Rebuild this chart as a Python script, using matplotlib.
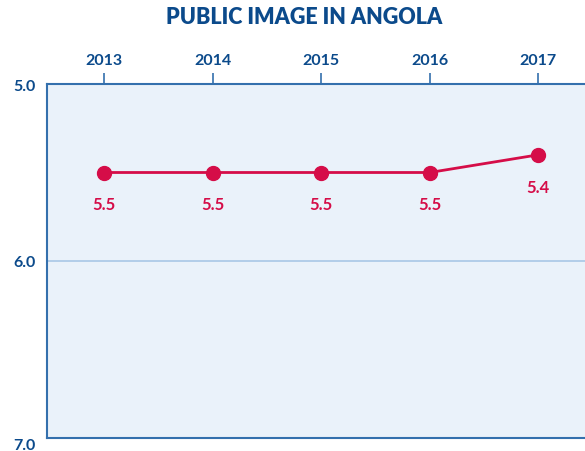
import matplotlib.pyplot as plt

years = [2013, 2014, 2015, 2016, 2017]
scores = [5.5, 5.5, 5.5, 5.5, 5.4]
score_labels = ['5.5', '5.5', '5.5', '5.5', '5.4']
yticks = [5.0, 6.0, 7.0]

navy = '#0b4a8b'
spine = '#3470ad'
red = '#d50d48'

plt.rcParams['font.family'] = ['Lato', 'DejaVu Sans']

fig = plt.figure(figsize=(5.85, 4.52), dpi=100)
ax = fig.add_axes([47 / 585, 1 - 439 / 452, 538 / 585, 354 / 452])
ax.set_facecolor('#eaf2fa')

ax.plot(years, scores, color=red, lw=2, marker='o', ms=10, zorder=3)
for x, y, lab in zip(years, scores, score_labels):
    ax.annotate(lab, (x, y), xytext=(0, -23), textcoords='offset points',
                ha='center', va='center', color=red, fontsize=12,
                fontweight='bold')

ax.set_xlim(2012.475, 2017.43)
ax.set_ylim(7.0, 5.0)
ax.set_xticks(years)
ax.set_xticklabels([str(y) for y in years])
ax.set_yticks(yticks)
ax.set_yticklabels(['%.1f' % v for v in yticks])
ax.xaxis.tick_top()
ax.tick_params(axis='x', colors=spine, length=8, width=1.2, pad=4,
               labelcolor=navy, labelsize=11.5)
ax.tick_params(axis='y', length=0, pad=8, labelcolor=navy, labelsize=11.5)
for t in ax.get_xticklabels() + ax.get_yticklabels():
    t.set_fontweight('bold')
ax.get_yticklabels()[-1].set_va('top')

ax.axhline(6.0, color='#a9c7e6', lw=1.2, zorder=1)

for s in ['left', 'bottom', 'top']:
    ax.spines[s].set_color(spine)
    ax.spines[s].set_linewidth(1.5)
ax.spines['right'].set_visible(False)

fig.text(304 / 585, 1 - 17 / 452, 'PUBLIC IMAGE IN ANGOLA', ha='center', va='center',
         color=navy, fontsize=15.5, fontweight='heavy')

fig.savefig('out.png', dpi=100, facecolor='white')
